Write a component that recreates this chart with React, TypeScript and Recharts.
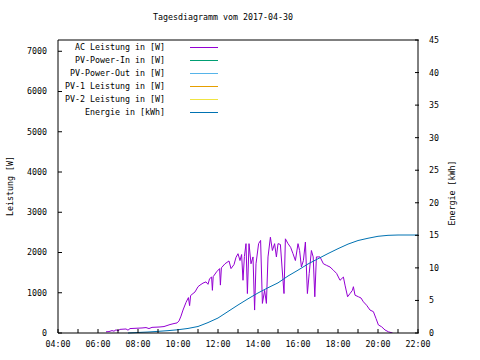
import { LineChart, Line, XAxis, YAxis, Legend } from "recharts";

const hourTicks = [4, 5, 6, 7, 8, 9, 10, 11, 12, 13, 14, 15, 16, 17, 18, 19, 20, 21, 22];
const powerTicks = [0, 1000, 2000, 3000, 4000, 5000, 6000, 7000];
const energyTicks = [0, 5, 10, 15, 20, 25, 30, 35, 40, 45];

// AC Leistung in [W]
const acTime = [
  6.4, 6.55, 6.7, 6.8, 6.9, 7.0, 7.1, 7.25, 7.4, 7.5, 7.6, 7.8, 8.0, 8.2, 8.4, 8.55, 8.7, 8.9, 9.1, 9.3,
  9.45, 9.6, 9.8, 9.95, 10.05, 10.15, 10.25, 10.4, 10.52, 10.58, 10.63, 10.75, 10.85, 11.0, 11.1, 11.25,
  11.4, 11.5, 11.58, 11.68, 11.72, 11.76, 11.93, 12.08, 12.12, 12.17, 12.35, 12.55, 12.65, 12.8, 12.9,
  13.0, 13.1, 13.18, 13.25, 13.32, 13.4, 13.47, 13.55, 13.65, 13.75, 13.83, 13.9, 14.03, 14.13, 14.22,
  14.33, 14.42, 14.5, 14.62, 14.72, 14.83, 14.92, 15.0, 15.12, 15.2, 15.3, 15.37, 15.5, 15.63, 15.75,
  15.87, 16.0, 16.08, 16.17, 16.27, 16.37, 16.47, 16.56, 16.67, 16.76, 16.84, 16.92, 17.1, 17.27, 17.43,
  17.6, 17.77, 17.93, 18.1, 18.27, 18.35, 18.48, 18.6, 18.72, 18.77, 18.85, 19.02, 19.15, 19.27, 19.43,
  19.6, 19.77, 19.9, 20.02, 20.18, 20.35, 20.52, 20.73,
];
const acWatt = [
  30, 35, 60, 45, 80, 55, 90, 95, 100, 70, 110, 115, 120, 125, 135, 110, 140, 145, 150, 160,
  185, 210, 235, 250, 300, 420, 570, 760, 880, 680, 930, 980, 1020, 1150, 1190, 1240,
  1270, 1210, 1350, 1390, 1060, 1400, 1520, 1600, 1190, 1620, 1720, 1790, 1600, 1700, 1880,
  1970, 1800, 1950, 1310, 1900, 2220, 980, 2220, 1720, 1890, 570, 1720, 2220, 2300, 735,
  1060, 735, 1890, 2380, 2050, 2220, 1890, 2220, 2200, 1640, 980, 2340, 2220, 2130, 1970,
  1800, 2220, 2050, 1640, 1800, 2260, 980, 1480, 2050, 1890, 900, 1890, 1890, 1720, 1680,
  1640, 1560, 1480, 1310, 1390, 1190, 900, 980, 1060, 1150, 940, 900, 870, 775, 690,
  570, 530, 360, 200, 155, 75, 30, 0,
];

// Energie in [kWh]
const energyTime = [
  7.5, 8, 8.5, 9, 9.5, 10, 10.5, 11, 11.5, 12, 12.5, 13, 13.5, 14, 14.5, 15, 15.5, 16, 16.5, 17,
  17.5, 18, 18.5, 19, 19.5, 20, 20.5, 21, 22,
];
const energyKwh = [
  0, 0.08, 0.15, 0.25, 0.36, 0.5, 0.7, 1.0, 1.6, 2.3, 3.3, 4.3, 5.25, 6.15, 6.95, 7.7, 8.75, 9.65, 10.6, 11.4,
  12.2, 12.95, 13.65, 14.2, 14.55, 14.85, 15.0, 15.05, 15.05,
];

const legendNames = [
  "AC Leistung in [W]",
  "PV-Power-In in [W]",
  "PV-Power-Out in [W]",
  "PV-1 Leistung in [W]",
  "PV-2 Leistung in [W]",
  "Energie in [kWh]",
];
const legendColors = ["#9400D3", "#009E73", "#56B4E9", "#E69F00", "#F0E442", "#0072B2"];

const acData = acTime.map((t, i) => ({ t, w: acWatt[i] }));
const energyData = energyTime.map((t, i) => ({ t, e: energyKwh[i] }));

const FONT = "'DejaVu Sans Mono', monospace";
const FS = 8.3;

const HourTick = (props: any) => {
  const { x, y, payload } = props;
  if (payload.value % 2 !== 0) return <g />;
  const label = String(payload.value).padStart(2, "0") + ":00";
  return (
    <text x={x} y={y} dy="0.71em" textAnchor="middle" fontSize={FS} fontFamily={FONT} fill="#000">
      {label}
    </text>
  );
};

const LegendBox = () => (
  <svg width={480} height={130} style={{ position: "absolute", left: 0, top: 0, overflow: "visible" }}>
    {legendNames.map((name, i) => (
      <g key={name}>
        <text
          x={165}
          y={47 + i * 13}
          textAnchor="end"
          dominantBaseline="central"
          fontSize={FS}
          fontFamily={FONT}
          fill="#000"
        >
          {name}
        </text>
        <line x1={190} x2={218} y1={47.5 + i * 13} y2={47.5 + i * 13} stroke={legendColors[i]} strokeWidth={1} />
      </g>
    ))}
  </svg>
);

export default function App() {
  const tickStyle = { fontSize: FS, fontFamily: FONT, fill: "#000" };
  return (
    <div style={{ position: "absolute", left: 0, top: 0, width: 480, height: 360, background: "#fff" }}>
      <LineChart width={480} height={360} margin={{ top: 39, right: 0, bottom: 0, left: 0 }}>
        <XAxis
          xAxisId="b"
          dataKey="t"
          type="number"
          domain={[4, 22]}
          ticks={hourTicks}
          allowDataOverflow
          height={27}
          stroke="#000"
          tickSize={-4}
          tickMargin={12}
          tick={<HourTick />}
          interval={0}
        />
        <XAxis
          xAxisId="top"
          orientation="top"
          dataKey="t"
          type="number"
          domain={[4, 22]}
          ticks={hourTicks}
          height={1}
          stroke="#000"
          tickSize={-4}
          tick={false}
          interval={0}
        />
        <YAxis
          yAxisId="l1"
          orientation="left"
          width={58}
          domain={[0, 7280]}
          ticks={powerTicks}
          allowDataOverflow
          stroke="#000"
          tickSize={-4}
          tickMargin={15}
          tick={tickStyle}
          interval={0}
        />
        <YAxis
          yAxisId="r1"
          orientation="right"
          width={1}
          domain={[0, 7280]}
          ticks={powerTicks}
          stroke="#000"
          tickSize={-4}
          tick={false}
          interval={0}
        />
        <YAxis
          yAxisId="r2"
          orientation="right"
          width={61}
          domain={[0, 45]}
          ticks={energyTicks}
          stroke="#000"
          axisLine={false}
          tickSize={-4}
          tickMargin={14}
          tick={{ ...tickStyle, textAnchor: "start" }}
          interval={0}
        />
        <Legend
          verticalAlign="middle"
          align="center"
          content={<LegendBox />}
          wrapperStyle={{ position: "absolute", left: 0, top: 0, width: 480, height: 0 }}
        />
        <Line
          data={acData}
          xAxisId="b"
          yAxisId="l1"
          dataKey="w"
          type="linear"
          stroke={legendColors[0]}
          strokeWidth={1}
          dot={false}
          activeDot={false}
          isAnimationActive={false}
        />
        <Line
          data={energyData}
          xAxisId="b"
          yAxisId="r2"
          dataKey="e"
          type="linear"
          stroke={legendColors[5]}
          strokeWidth={1}
          dot={false}
          activeDot={false}
          isAnimationActive={false}
        />
      </LineChart>
      <svg
        width={480}
        height={360}
        style={{ position: "absolute", left: 0, top: 0, pointerEvents: "none" }}
      >
        <text x={223} y={17} textAnchor="middle" dominantBaseline="central" fontSize={FS} fontFamily={FONT} fill="#000">
          Tagesdiagramm vom 2017-04-30
        </text>
        <text
          x={10}
          y={186}
          transform="rotate(-90 10 186)"
          textAnchor="middle"
          dominantBaseline="central"
          fontSize={FS}
          fontFamily={FONT}
          fill="#000"
        >
          Leistung [W]
        </text>
        <text
          x={452}
          y={193}
          transform="rotate(-90 452 193)"
          textAnchor="middle"
          dominantBaseline="central"
          fontSize={FS}
          fontFamily={FONT}
          fill="#000"
        >
          Energie [kWh]
        </text>
      </svg>
    </div>
  );
}
